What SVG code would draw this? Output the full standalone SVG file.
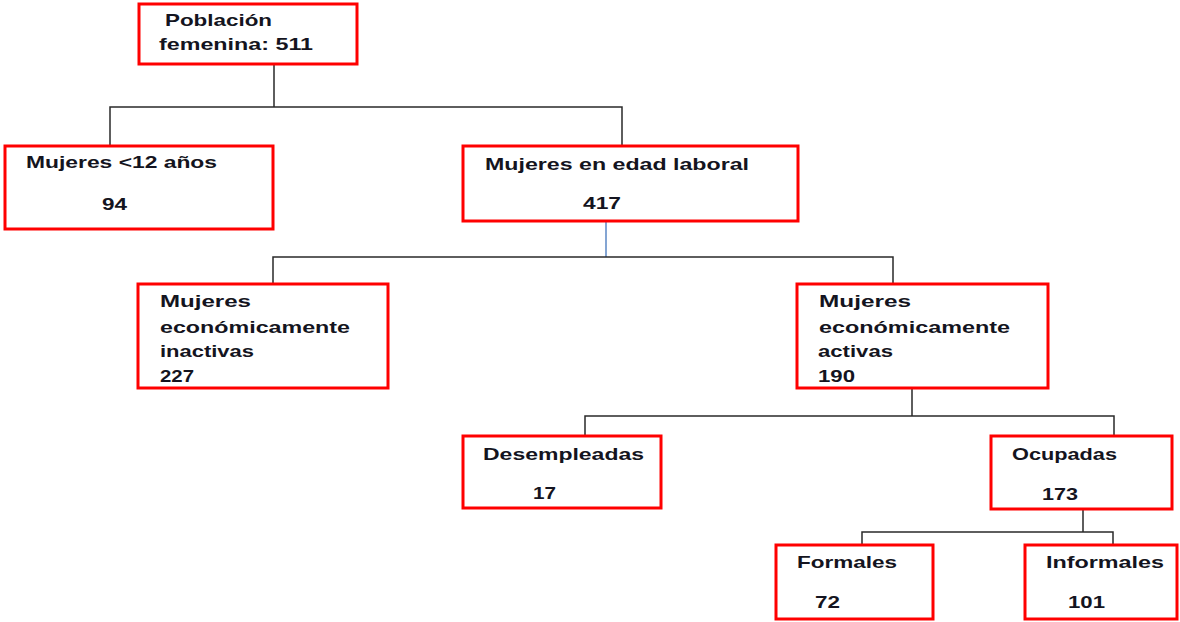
<svg xmlns="http://www.w3.org/2000/svg" width="1180" height="622" viewBox="0 0 1180 622">
<style>
.box{fill:#fff;stroke:#ff0000;stroke-width:3}
.t{font-family:"Liberation Sans",Arial,sans-serif;font-weight:bold;font-size:16.5px;fill:#141420}
.c{fill:none;stroke:#2a2a2a;stroke-width:1.5}
.cb{fill:none;stroke:#5b87c5;stroke-width:1.5}
</style>
<rect width="1180" height="622" fill="#fff"/>
<g id="connectors">
<path class="c" d="M274 64V107M110 146V107H622V146"/>
<path class="cb" d="M606 221V257"/>
<path class="c" d="M273 285V257H893V285"/>
<path class="c" d="M912 388V416M585 436V416H1114V436"/>
<path class="c" d="M1083 509V532M862 545V532H1113V545"/>
</g>
<g id="n-poblacion">
<rect class="box" x="139" y="4" width="218" height="60"/>
<text class="t" x="165" y="26" textLength="107" lengthAdjust="spacingAndGlyphs">Población</text>
<text class="t" x="159" y="50" textLength="154" lengthAdjust="spacingAndGlyphs">femenina: 511</text>
</g>
<g id="n-menores">
<rect class="box" x="5" y="146" width="268" height="83"/>
<text class="t" x="26" y="168" textLength="191" lengthAdjust="spacingAndGlyphs">Mujeres &lt;12 años</text>
<text class="t" x="102" y="210" textLength="25" lengthAdjust="spacingAndGlyphs">94</text>
</g>
<g id="n-edadlaboral">
<rect class="box" x="463" y="146" width="335" height="75"/>
<text class="t" x="485" y="170" textLength="264" lengthAdjust="spacingAndGlyphs">Mujeres en edad laboral</text>
<text class="t" x="583" y="209" textLength="38" lengthAdjust="spacingAndGlyphs">417</text>
</g>
<g id="n-inactivas">
<rect class="box" x="138" y="284" width="250" height="104"/>
<text class="t" x="160" y="307" textLength="91" lengthAdjust="spacingAndGlyphs">Mujeres</text>
<text class="t" x="160" y="333" textLength="190" lengthAdjust="spacingAndGlyphs">económicamente</text>
<text class="t" x="160" y="357" textLength="94" lengthAdjust="spacingAndGlyphs">inactivas</text>
<text class="t" x="160" y="382" textLength="34" lengthAdjust="spacingAndGlyphs">227</text>
</g>
<g id="n-activas">
<rect class="box" x="797" y="284" width="251" height="104"/>
<text class="t" x="819" y="307" textLength="92" lengthAdjust="spacingAndGlyphs">Mujeres</text>
<text class="t" x="819" y="333" textLength="191" lengthAdjust="spacingAndGlyphs">económicamente</text>
<text class="t" x="818" y="357" textLength="75" lengthAdjust="spacingAndGlyphs">activas</text>
<text class="t" x="818" y="382" textLength="37" lengthAdjust="spacingAndGlyphs">190</text>
</g>
<g id="n-desempleadas">
<rect class="box" x="463" y="436" width="198" height="72"/>
<text class="t" x="483" y="460" textLength="161" lengthAdjust="spacingAndGlyphs">Desempleadas</text>
<text class="t" x="533" y="499" textLength="23" lengthAdjust="spacingAndGlyphs">17</text>
</g>
<g id="n-ocupadas">
<rect class="box" x="991" y="436" width="181" height="73"/>
<text class="t" x="1012" y="460" textLength="105" lengthAdjust="spacingAndGlyphs">Ocupadas</text>
<text class="t" x="1042" y="500" textLength="36" lengthAdjust="spacingAndGlyphs">173</text>
</g>
<g id="n-formales">
<rect class="box" x="776" y="545" width="157" height="74"/>
<text class="t" x="797" y="568" textLength="100" lengthAdjust="spacingAndGlyphs">Formales</text>
<text class="t" x="815" y="608" textLength="25" lengthAdjust="spacingAndGlyphs">72</text>
</g>
<g id="n-informales">
<rect class="box" x="1025" y="545" width="152" height="74"/>
<text class="t" x="1046" y="568" textLength="118" lengthAdjust="spacingAndGlyphs">Informales</text>
<text class="t" x="1068" y="608" textLength="37" lengthAdjust="spacingAndGlyphs">101</text>
</g>
</svg>
